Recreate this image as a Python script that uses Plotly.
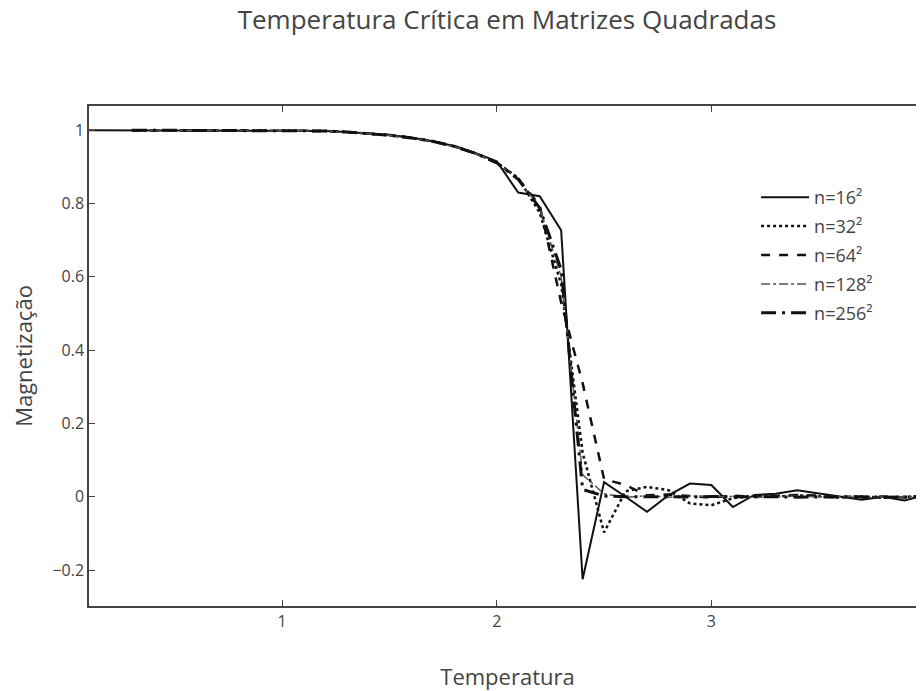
import plotly.graph_objects as go

temps16 = [0.1, 0.2, 0.3, 0.4, 0.5, 0.6, 0.7, 0.8, 0.9, 1.0,
           1.1, 1.2, 1.3, 1.4, 1.5, 1.6, 1.7, 1.8, 1.9, 2.0,
           2.1, 2.2, 2.3, 2.4, 2.5, 2.6, 2.7, 2.8, 2.9, 3.0,
           3.1, 3.2, 3.3, 3.4, 3.5, 3.6, 3.7, 3.8, 3.9, 4.0]
temps = [0.3, 0.4, 0.5, 0.6, 0.7, 0.8, 0.9, 1.0,
         1.1, 1.2, 1.3, 1.4, 1.5, 1.6, 1.7, 1.8, 1.9, 2.0,
         2.1, 2.2, 2.3, 2.4, 2.5, 2.6, 2.7, 2.8, 2.9, 3.0,
         3.1, 3.2, 3.3, 3.4, 3.5, 3.6, 3.7, 3.8, 3.9, 4.0]

mag16 = [1.0, 1.0, 1.0, 1.0, 1.0, 1.0, 1.0, 1.0, 1.0, 1.0,
         0.999, 0.998, 0.995, 0.991, 0.987, 0.980, 0.970, 0.957, 0.938, 0.915,
         0.830, 0.820, 0.727, -0.225, 0.040, 0.000, -0.041, 0.004, 0.036, 0.032,
         -0.028, 0.005, 0.008, 0.018, 0.010, 0.002, -0.008, 0.000, -0.010, 0.005]
mag32 = [1.0, 1.0, 1.0, 1.0, 1.0, 1.0, 1.0, 1.0,
         0.999, 0.998, 0.995, 0.991, 0.986, 0.979, 0.970, 0.956, 0.937, 0.912,
         0.870, 0.775, 0.580, 0.120, -0.097, 0.015, 0.027, 0.018, -0.018, -0.023,
         -0.004, 0.002, 0.000, 0.004, 0.001, -0.002, 0.001, -0.003, 0.000, 0.002]
mag64 = [1.0, 1.0, 1.0, 1.0, 1.0, 1.0, 1.0, 1.0,
         0.999, 0.998, 0.995, 0.991, 0.987, 0.980, 0.970, 0.957, 0.937, 0.911,
         0.868, 0.795, 0.530, 0.310, 0.048, 0.032, 0.004, 0.006, 0.002, -0.002,
         0.003, 0.000, 0.002, 0.005, 0.003, 0.000, -0.002, 0.001, -0.002, 0.001]
mag128 = [1.0, 1.0, 1.0, 1.0, 1.0, 1.0, 1.0, 1.0,
          0.999, 0.998, 0.995, 0.991, 0.986, 0.979, 0.970, 0.956, 0.937, 0.912,
          0.866, 0.790, 0.600, 0.060, 0.008, -0.002, 0.003, -0.001, 0.002, 0.000,
          0.001, -0.002, 0.001, 0.002, 0.000, 0.001, -0.001, 0.000, 0.001, 0.000]
mag256 = [1.0, 1.0, 1.0, 1.0, 1.0, 1.0, 1.0, 1.0,
          0.999, 0.998, 0.995, 0.991, 0.986, 0.979, 0.970, 0.956, 0.937, 0.911,
          0.866, 0.788, 0.620, 0.020, 0.002, 0.000, 0.001, 0.000, -0.001, 0.001,
          0.000, 0.001, 0.000, -0.001, 0.000, 0.001, 0.000, -0.001, 0.000, 0.000]

names = ["n=16²", "n=32²", "n=64²", "n=128²", "n=256²"]

series = [
    (temps16, mag16, dict(color="#111", width=2, dash="solid")),
    (temps, mag32, dict(color="#111", width=2.5, dash="dot")),
    (temps, mag64, dict(color="#111", width=2.5, dash="dash")),
    (temps, mag128, dict(color="#555", width=1.5, dash="dashdot")),
    (temps, mag256, dict(color="#111", width=3, dash="longdashdot")),
]

fig = go.Figure()
for i, ((x, y, line), name) in enumerate(zip(series, names)):
    fig.add_trace(go.Scatter(x=x, y=y, mode="lines", name=name, line=line,
                             legendgroup=f"g{i}"))

axis_common = dict(
    showgrid=False, zeroline=False, showline=True, linecolor="#444", linewidth=1.5,
    mirror="ticks", ticks="inside", ticklen=6, tickcolor="#444",
    tickfont=dict(size=16, color="#444"), automargin=False,
)

W, H = 998, 700
fig.update_layout(
    width=W, height=H,
    margin=dict(l=81, r=80, t=98, b=102, autoexpand=False),
    paper_bgcolor="white", plot_bgcolor="white",
    font=dict(family="Open Sans", color="#444"),
    title=dict(text="Temperatura Crítica em Matrizes Quadradas", x=0.5, xanchor="center",
               xref="container", y=1 - 12 / H, yref="container", yanchor="middle",
               font=dict(size=26, color="#444")),
    xaxis=dict(range=[0.1, 4.0], dtick=1,
               title=dict(text="Temperatura", font=dict(size=22), standoff=39),
               **axis_common),
    yaxis=dict(range=[-0.298, 1.066], dtick=0.2,
               title=dict(text="Magnetização", font=dict(size=22), standoff=14),
               **axis_common),
    legend=dict(x=0.797, y=0.854, xanchor="left", yanchor="top", itemwidth=48,
                tracegroupgap=2.5,
                font=dict(size=18, color="#444"), bgcolor="rgba(0,0,0,0)"),
)

fig.write_html("out.html")
